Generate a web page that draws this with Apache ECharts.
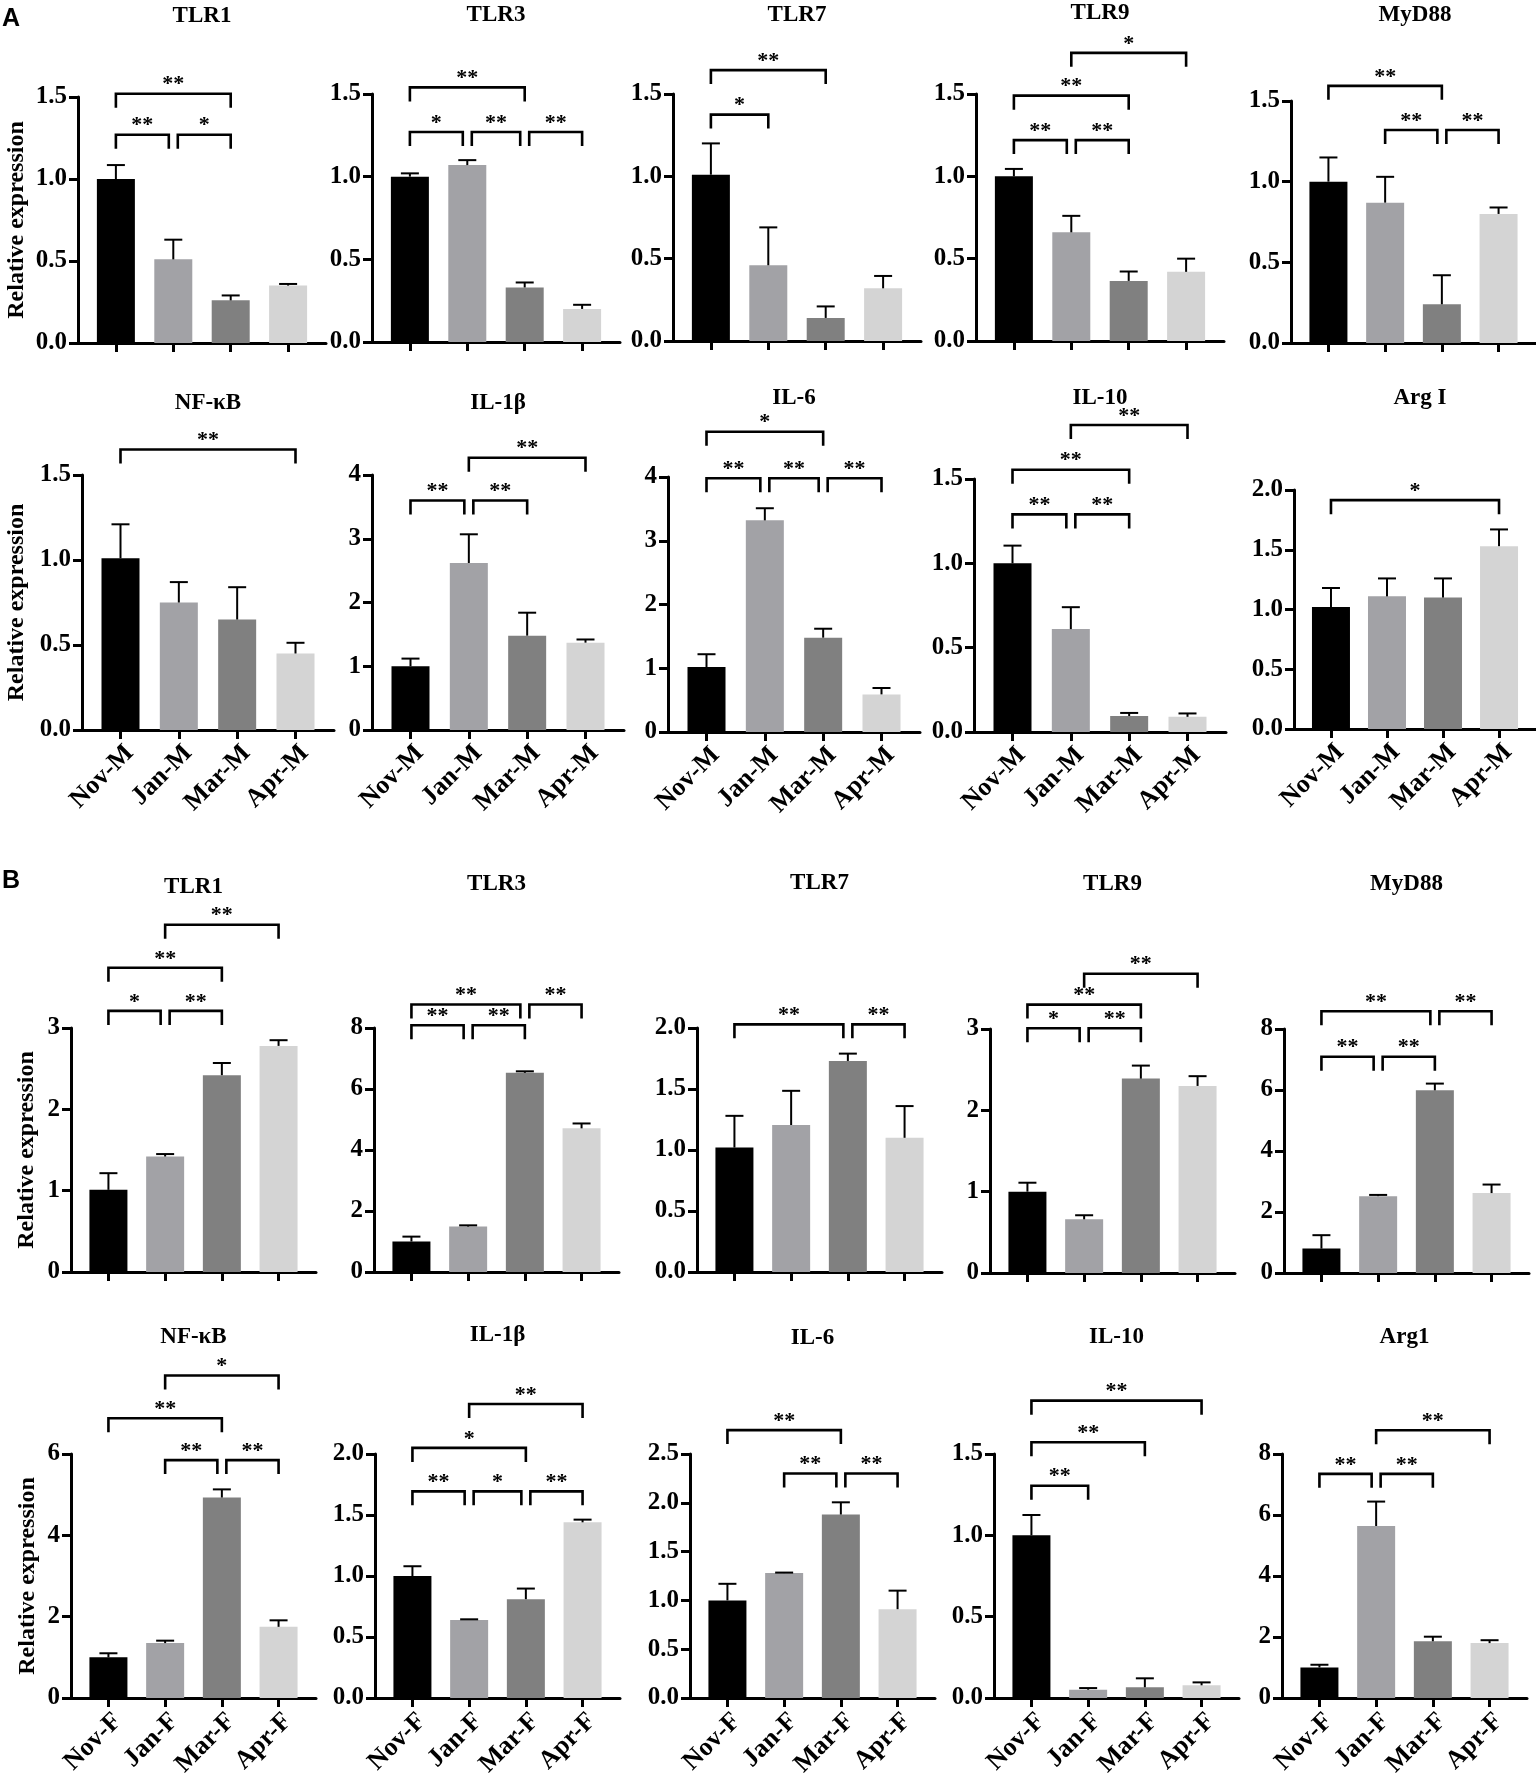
<!DOCTYPE html>
<html>
<head>
<meta charset="utf-8">
<script src="https://cdn.jsdelivr.net/npm/echarts@6/dist/echarts.min.js"></script>
<style>
  html, body { margin: 0; padding: 0; background: #fff; }
  #chart { width: 1536px; height: 1780px; }
</style>
</head>
<body>
<div id="chart"></div>
<script>
// categories
const catsM = ['Nov-M', 'Jan-M', 'Mar-M', 'Apr-M'];
const catsF = ['Nov-F', 'Jan-F', 'Mar-F', 'Apr-F'];
const genesA = ['TLR1', 'TLR3', 'TLR7', 'TLR9', 'MyD88', 'NF-κB', 'IL-1β', 'IL-6', 'IL-10', 'Arg I'];
const genesB = ['TLR1', 'TLR3', 'TLR7', 'TLR9', 'MyD88', 'NF-κB', 'IL-1β', 'IL-6', 'IL-10', 'Arg1'];

// A (male) – mean and upper error per gene
const meansA = [
  [1.00, 0.51, 0.26, 0.35],
  [1.00, 1.07, 0.33, 0.20],
  [1.01, 0.46, 0.14, 0.32],
  [1.00, 0.66, 0.365, 0.42],
  [1.00, 0.87, 0.24, 0.80],
  [1.01, 0.75, 0.65, 0.45],
  [1.00, 2.62, 1.48, 1.37],
  [1.02, 3.32, 1.48, 0.59],
  [1.00, 0.61, 0.095, 0.09],
  [1.02, 1.11, 1.10, 1.53]
];
const errsA = [
  [0.085, 0.12, 0.03, 0.01],
  [0.02, 0.03, 0.03, 0.025],
  [0.19, 0.23, 0.07, 0.075],
  [0.045, 0.10, 0.057, 0.08],
  [0.15, 0.16, 0.18, 0.04],
  [0.20, 0.12, 0.19, 0.063],
  [0.12, 0.45, 0.36, 0.05],
  [0.20, 0.19, 0.14, 0.10],
  [0.105, 0.13, 0.018, 0.02],
  [0.16, 0.15, 0.16, 0.14]
];
// significance brackets: [from, to, height, label]
const sigA = [
  [[0, 1, 1.27, '**'], [1, 2, 1.27, '*'], [0, 2, 1.52, '**']],
  [[0, 1, 1.27, '*'], [1, 2, 1.27, '**'], [2, 3, 1.27, '**'], [0, 2, 1.54, '**']],
  [[0, 1, 1.375, '*'], [0, 2, 1.645, '**']],
  [[0, 1, 1.22, '**'], [1, 2, 1.22, '**'], [0, 2, 1.49, '**'], [1, 3, 1.75, '*']],
  [[1, 2, 1.32, '**'], [2, 3, 1.32, '**'], [0, 2, 1.594, '**']],
  [[0, 3, 1.65, '**']],
  [[0, 1, 3.6, '**'], [1, 2, 3.6, '**'], [1, 3, 4.27, '**']],
  [[0, 1, 3.98, '**'], [1, 2, 3.98, '**'], [2, 3, 3.98, '**'], [0, 2, 4.71, '*']],
  [[0, 1, 1.29, '**'], [1, 2, 1.29, '**'], [0, 2, 1.555, '**'], [1, 3, 1.82, '**']],
  [[0, 3, 1.915, '*']]
];
const yMaxA = [1.5, 1.5, 1.5, 1.5, 1.5, 1.5, 4, 4, 1.5, 2.0];
const yStepA = [0.5, 0.5, 0.5, 0.5, 0.5, 0.5, 1, 1, 0.5, 0.5];

// B (female)
const meansB = [
  [1.01, 1.42, 2.42, 2.78],
  [1.00, 1.49, 6.53, 4.71],
  [1.02, 1.205, 1.73, 1.10],
  [1.00, 0.66, 2.39, 2.30],
  [0.80, 2.52, 5.99, 2.62],
  [1.00, 1.35, 4.93, 1.75],
  [1.00, 0.64, 0.81, 1.44],
  [1.00, 1.28, 1.88, 0.91],
  [1.00, 0.051, 0.066, 0.078],
  [1.00, 5.64, 1.86, 1.80]
];
const errsB = [
  [0.205, 0.03, 0.15, 0.07],
  [0.16, 0.04, 0.05, 0.16],
  [0.26, 0.28, 0.06, 0.26],
  [0.11, 0.05, 0.16, 0.12],
  [0.44, 0.04, 0.22, 0.28],
  [0.10, 0.06, 0.20, 0.16],
  [0.08, 0.005, 0.087, 0.022],
  [0.17, 0.005, 0.125, 0.19],
  [0.125, 0.01, 0.055, 0.018],
  [0.09, 0.80, 0.15, 0.095]
];
const sigB = [
  [[0, 1, 3.21, '*'], [1, 2, 3.21, '**'], [0, 2, 3.74, '**'], [1, 3, 4.27, '**']],
  [[0, 1, 8.09, '**'], [1, 2, 8.09, '**'], [0, 2, 8.77, '**'], [2, 3, 8.77, '**']],
  [[0, 2, 2.03, '**'], [2, 3, 2.03, '**']],
  [[0, 1, 3.01, '*'], [1, 2, 3.01, '**'], [0, 2, 3.3, '**'], [1, 3, 3.68, '**']],
  [[0, 1, 7.09, '**'], [1, 2, 7.09, '**'], [0, 2, 8.58, '**'], [2, 3, 8.58, '**']],
  [[1, 2, 5.85, '**'], [2, 3, 5.85, '**'], [0, 2, 6.88, '**'], [1, 3, 7.93, '*']],
  [[0, 1, 1.694, '**'], [1, 2, 1.694, '*'], [2, 3, 1.694, '**'], [0, 2, 2.05, '*'], [1, 3, 2.41, '**']],
  [[1, 2, 2.30, '**'], [2, 3, 2.30, '**'], [0, 2, 2.745, '**']],
  [[0, 1, 1.305, '**'], [0, 2, 1.572, '**'], [0, 3, 1.828, '**']],
  [[0, 1, 7.35, '**'], [1, 2, 7.35, '**'], [1, 3, 8.78, '**']]
];
const yMaxB = [3, 8, 2.0, 3, 8, 6, 2.0, 2.5, 1.5, 8];
const yStepB = [1, 2, 0.5, 1, 2, 2, 0.5, 0.5, 0.5, 2];

const barColors = ['#000000', '#a2a2a6', '#808080', '#d4d4d4'];

// page layout, one entry per row of panels
const rows = [
  { lefts: [78, 372, 673, 976, 1291], tops: [97, 94, 94, 94, 101], bottoms: [343, 342, 341, 341, 343],
    width: 248, titleY: [16, 15, 15, 13, 15], nameGap: 49 },
  { lefts: [82, 372, 668, 974, 1294], tops: [475, 475, 477, 479, 490], bottoms: [730, 730, 732, 732, 729],
    width: 252, titleY: [403, 403, 398, 398, 398], nameGap: 53 },
  { lefts: [71, 374, 697, 990, 1284], tops: [1028, 1028, 1028, 1029, 1029], bottoms: [1272, 1272, 1272, 1273, 1273],
    width: 245, titleY: [887, 884, 883, 884, 884], nameGap: 32 },
  { lefts: [71, 375, 690, 994, 1282], tops: [1454, 1454, 1454, 1454, 1454], bottoms: [1698, 1698, 1698, 1698, 1698],
    width: 245, titleY: [1337, 1335, 1338, 1337, 1337], nameGap: 31 }
];

const serif = '"Liberation Serif", "Times New Roman", serif';

function renderError(params, api) {
  const x = api.value(0), m = api.value(1), e = api.value(2);
  const p0 = api.coord([x, m]);
  const p1 = api.coord([x, m + e]);
  const st = { stroke: '#000', lineWidth: 2 };
  return {
    type: 'group',
    children: [
      { type: 'line', shape: { x1: p0[0], y1: p0[1], x2: p1[0], y2: p1[1] }, style: st },
      { type: 'line', shape: { x1: p1[0] - 9, y1: p1[1], x2: p1[0] + 9, y2: p1[1] }, style: st }
    ]
  };
}

function bracketRenderer(list) {
  return function (params, api) {
    const b = list[params.dataIndex];
    const shareL = list.some(o => o !== b && o[2] === b[2] && o[1] === b[0]);
    const shareR = list.some(o => o !== b && o[2] === b[2] && o[0] === b[1]);
    const pa = api.coord([b[0], b[2]]);
    const pb = api.coord([b[1], b[2]]);
    const xa = pa[0] + (shareL ? 4.5 : 0);
    const xb = pb[0] - (shareR ? 4.5 : 0);
    const y = pa[1];
    return {
      type: 'group',
      children: [
        { type: 'polyline', shape: { points: [[xa, y + 14], [xa, y], [xb, y], [xb, y + 14]] },
          style: { stroke: '#000', lineWidth: 2.6, fill: 'none', lineJoin: 'miter' } },
        { type: 'text', x: (xa + xb) / 2, y: y - 9,
          style: { text: b[3], font: 'bold 22px ' + serif, fill: '#000', align: 'center', verticalAlign: 'middle' } }
      ]
    };
  };
}

const grids = [], xAxes = [], yAxes = [], series = [], texts = [];

function addPanel(k, rowIdx, col, gene, means, errs, sig, yMax, yStep, cats, showCats) {
  const r = rows[rowIdx];
  const left = r.lefts[col], top = r.tops[col], height = r.bottoms[col] - r.tops[col];
  grids.push({ left: left, top: top, width: r.width, height: height });
  xAxes.push({
    gridIndex: k, type: 'value', min: -0.66, max: 3.66,
    axisLine: { show: true, onZero: false, lineStyle: { color: '#000', width: 3 } },
    axisTick: { show: true, customValues: [0, 1, 2, 3], length: 9, lineStyle: { color: '#000', width: 3 } },
    axisLabel: {
      show: showCats, customValues: [0, 1, 2, 3], formatter: v => cats[Math.round(v)],
      rotate: 45, margin: 10, verticalAlign: 'top', color: '#000', fontSize: 26, fontWeight: 'bold', fontFamily: serif
    },
    splitLine: { show: false }
  });
  yAxes.push({
    gridIndex: k, type: 'value', min: 0, max: yMax, interval: yStep,
    axisLine: { show: true, onZero: false, lineStyle: { color: '#000', width: 3 } },
    axisTick: { show: true, length: 9, lineStyle: { color: '#000', width: 3 } },
    axisLabel: {
      margin: 11, color: '#000', fontSize: 25, fontWeight: 'bold', fontFamily: serif,
      formatter: v => (yStep < 1 ? v.toFixed(1) : String(v))
    },
    splitLine: { show: false },
    name: col === 0 ? 'Relative expression' : '',
    nameLocation: 'middle', nameGap: r.nameGap,
    nameTextStyle: { color: '#000', fontSize: 24, fontWeight: 'bold', fontFamily: serif }
  });
  series.push({
    type: 'bar', xAxisIndex: k, yAxisIndex: k, barWidth: 38, silent: true, z: 2,
    data: means.map((m, i) => ({ value: [i, m], itemStyle: { color: barColors[i] } }))
  });
  series.push({
    type: 'custom', xAxisIndex: k, yAxisIndex: k, clip: false, silent: true, z: 3,
    data: means.map((m, i) => [i, m, errs[i]]),
    renderItem: renderError
  });
  series.push({
    type: 'custom', xAxisIndex: k, yAxisIndex: k, clip: false, silent: true, z: 3,
    data: sig.map(b => [b[0], b[2], b[1]]),
    renderItem: bracketRenderer(sig)
  });
  texts.push({
    type: 'text', x: left + r.width / 2, y: r.titleY[col],
    style: { text: gene, font: 'bold 23px ' + serif, fill: '#000', align: 'center', verticalAlign: 'middle',
             textAlign: 'center', textVerticalAlign: 'middle' }
  });
}

for (let i = 0; i < 10; i++) {
  addPanel(i, Math.floor(i / 5), i % 5, genesA[i], meansA[i], errsA[i], sigA[i], yMaxA[i], yStepA[i], catsM, i >= 5);
}
for (let i = 0; i < 10; i++) {
  addPanel(10 + i, 2 + Math.floor(i / 5), i % 5, genesB[i], meansB[i], errsB[i], sigB[i], yMaxB[i], yStepB[i], catsF, i >= 5);
}

texts.push({ type: 'text', x: 2, y: 19,
  style: { text: 'A', font: 'bold 25px "Liberation Sans", Arial, sans-serif', fill: '#000', align: 'left', verticalAlign: 'middle',
           textAlign: 'left', textVerticalAlign: 'middle' } });
texts.push({ type: 'text', x: 2, y: 881,
  style: { text: 'B', font: 'bold 25px "Liberation Sans", Arial, sans-serif', fill: '#000', align: 'left', verticalAlign: 'middle',
           textAlign: 'left', textVerticalAlign: 'middle' } });

const chart = echarts.init(document.getElementById('chart'));
chart.setOption({
  animation: false,
  backgroundColor: '#fff',
  grid: grids,
  xAxis: xAxes,
  yAxis: yAxes,
  series: series,
  graphic: { elements: texts }
});
</script>
</body>
</html>
